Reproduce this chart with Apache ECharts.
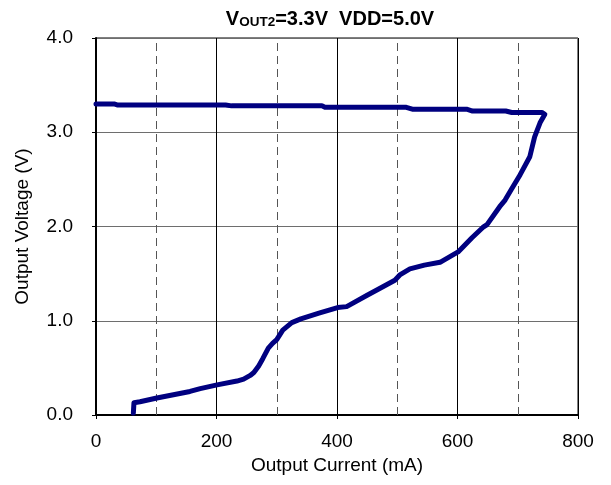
<!DOCTYPE html>
<html>
<head>
<meta charset="utf-8">
<script src="https://cdn.jsdelivr.net/npm/echarts@6/dist/echarts.min.js"></script>
<style>
  html, body { margin: 0; padding: 0; background: #fff; }
  #chart { width: 611px; height: 485px; }
</style>
</head>
<body>
<div id="chart"></div>
<script>
// Output current (mA) sweep: load increased along the top, then fold-back down the curve
const currentMA = [
  0, 30, 35, 215, 225, 375, 380, 515, 525, 615, 625, 680, 690, 740, 745,
  745, 737, 728, 720, 704, 690, 679, 670, 649, 642, 624, 601, 571, 545, 521,
  505, 496, 470, 450, 416, 401, 370, 340, 325, 310, 300, 293, 286, 277, 270,
  262, 256, 245, 234, 201, 173, 156, 101, 73, 63, 62
];
// Output voltage (V) at each point
const voltageV = [
  3.30, 3.30, 3.29, 3.29, 3.28, 3.28, 3.265, 3.265, 3.245, 3.245, 3.225, 3.225, 3.21, 3.21, 3.19,
  3.17, 3.10, 2.95, 2.74, 2.55, 2.40, 2.28, 2.21, 2.02, 1.99, 1.88, 1.73, 1.62, 1.59, 1.55,
  1.49, 1.43, 1.34, 1.27, 1.15, 1.14, 1.08, 1.02, 0.98, 0.90, 0.80, 0.76, 0.71, 0.60, 0.52,
  0.45, 0.42, 0.38, 0.36, 0.32, 0.28, 0.25, 0.18, 0.14, 0.13, 0.02
];
const xTicks = [0, 200, 400, 600, 800];
const yTicks = [0, 1, 2, 3, 4];
const dashedX = [100, 300, 500, 700];

const points = currentMA.map((c, i) => [c, voltageV[i]]);
const font = 'Liberation Sans, Arial, sans-serif';
const labelSize = 19;

const chart = echarts.init(document.getElementById('chart'), null, { renderer: 'canvas' });
chart.setOption({
  animation: false,
  backgroundColor: '#ffffff',
  title: {
    text: '{big|V}{small|OUT2}{big|=3.3V  VDD=5.0V}',
    left: 325,
    top: 4,
    textAlign: 'center',
    textStyle: {
      rich: {
        big: { fontFamily: font, fontSize: 20, fontWeight: 'bold', color: '#000' },
        small: { fontFamily: font, fontSize: 13.5, fontWeight: 'bold', color: '#000', verticalAlign: 'bottom' }
      }
    }
  },
  grid: { left: 96, right: 33, top: 38, bottom: 70, containLabel: false, show: true, borderColor: '#000', borderWidth: 1 },
  xAxis: {
    type: 'value',
    min: xTicks[0],
    max: xTicks[xTicks.length - 1],
    interval: 200,
    name: 'Output Current (mA)',
    nameLocation: 'middle',
    nameGap: 36,
    nameTextStyle: { fontFamily: font, fontSize: labelSize, color: '#000' },
    axisLine: { show: true, lineStyle: { color: '#000', width: 2 } },
    axisTick: { show: true, inside: false, length: 4, lineStyle: { color: '#000' } },
    axisLabel: { fontFamily: font, fontSize: labelSize, color: '#000', margin: 17 },
    splitLine: { show: true, lineStyle: { color: '#000', width: 1 } }
  },
  yAxis: {
    type: 'value',
    min: yTicks[0],
    max: yTicks[yTicks.length - 1],
    interval: 1,
    name: 'Output Voltage (V)',
    nameLocation: 'middle',
    nameGap: 64,
    nameTextStyle: { fontFamily: font, fontSize: labelSize, color: '#000' },
    axisLine: { show: true, lineStyle: { color: '#000', width: 2 } },
    axisTick: { show: true, inside: false, length: 4, lineStyle: { color: '#000' } },
    axisLabel: { fontFamily: font, fontSize: labelSize, color: '#000', margin: 23, formatter: v => v.toFixed(1) },
    splitLine: { show: true, lineStyle: { color: '#6e6e6e', width: 1 } }
  },
  series: [{
    type: 'line',
    data: points,
    showSymbol: false,
    smooth: false,
    lineStyle: { color: '#000080', width: 5, join: 'round', cap: 'round' },
    markLine: {
      silent: true,
      symbol: 'none',
      label: { show: false },
      lineStyle: { color: '#555', type: [8, 5], width: 1 },
      data: dashedX.map(v => ({ xAxis: v }))
    },
    z: 5
  }]
});
</script>
</body>
</html>
